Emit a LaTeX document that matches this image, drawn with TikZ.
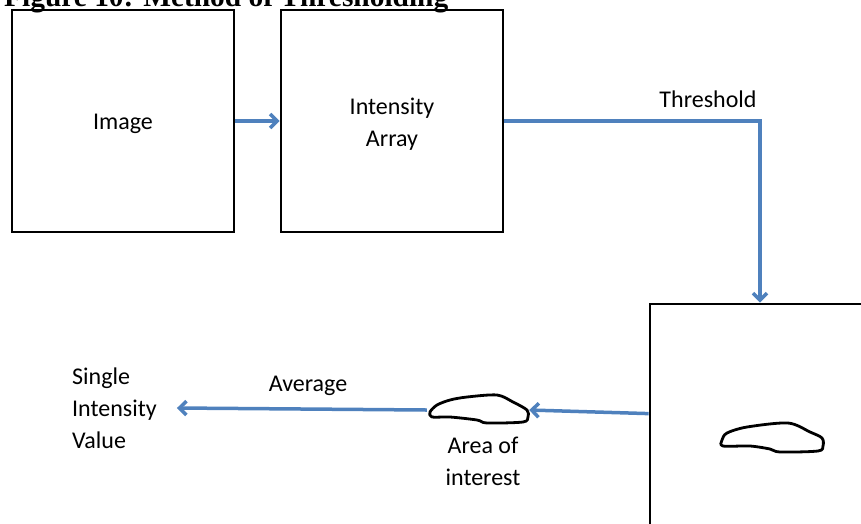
\documentclass[tikz,border=0pt]{standalone}
\usepackage{fontspec}
\setmainfont{Carlito}
\newfontfamily\titlefont{Liberation Serif}
\usetikzlibrary{arrows.meta,positioning}

\definecolor{officeblue}{RGB}{79,129,189}

\tikzset{
  box/.style={draw, line width=2.8pt, minimum width=222pt, minimum height=222pt},
  boxtext/.style={align=center, yshift=-3pt},
  flow/.style={draw=officeblue, line width=3.5pt, -{Straight Barb[length=7pt,width=14pt,line width=3.5pt]}},
  blob/.style={line width=2.8pt, line join=round}
}

\begin{document}
\begin{tikzpicture}[x=1pt, y=-1pt, font=\fontsize{24}{32}\selectfont]
			\useasboundingbox (0,0) rectangle (861,523);
			
			% caption, cut off at the top of the page
			\node (title) [anchor=base west, inner sep=0pt, font=\titlefont\bfseries\fontsize{29.4}{32}\selectfont] at (4,6) {Figure 10: Method of Thresholding};
			
			\node (image) [box] at (123,121) {};
			\node (intensity) [box] at (392,121) {};
			\node (threshed) [box, minimum width=220pt, minimum height=300pt] at (760,454) {};
			\node (imagetext) [boxtext] at (image) {Image};
			\node (intensitytext) [boxtext] at (intensity) {Intensity\\Array};
			
			\node (aoi) [minimum width=102pt, minimum height=28pt, inner sep=0pt] at (478,410) {};
			\node (siv) [anchor=west, align=left, inner sep=0pt] at (72,408) {Single\\Intensity\\Value};
			
			\node (thr) at (708,99) {Threshold};
			\node (avg) at (308,386) {Average};
			\node (aoilabel) [align=center] at (483,461) {Area of\\interest};
			
			% hand drawn areas
			\draw [blob] plot [smooth cycle, tension=0.5] coordinates {(430,412) (437,405) (450,400) (467,397) (497,395) (513,402) (527,410) (528,417) (523,422) (487,423) (477,420) (450,417) (432,417)};
			\draw [blob] plot [smooth cycle, tension=0.5] coordinates {(722,440) (727,433) (747,427) (788,423) (810,432) (822,438) (823,446) (818,451) (780,452) (770,449) (750,446) (723,446)};
			
			\draw [flow] (image) -- (intensity);
			\draw [flow] (intensity.east) -| (threshed.north);
			\draw [flow] ([yshift=-111pt]threshed.north west) -- (aoi.east);
			\draw [flow] (aoi.west) -- ([xshift=20pt]siv.east);
		\end{tikzpicture}
\end{document}
